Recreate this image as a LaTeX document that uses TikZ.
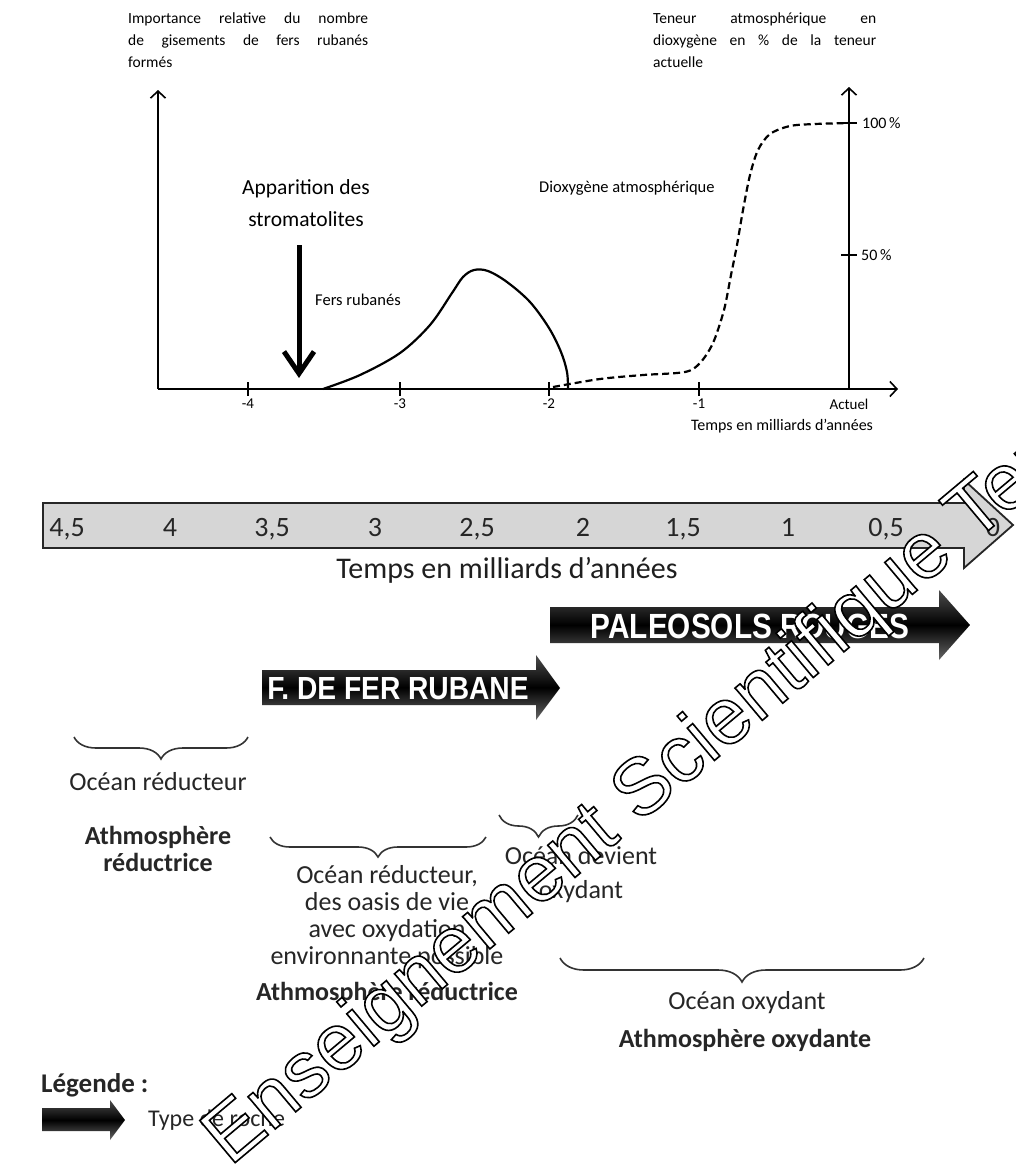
\documentclass[tikz,border=0pt]{standalone}
\usepackage{fontspec}
\setmainfont{Carlito}
\newfontfamily\wmfont{Liberation Sans}
\newfontfamily\boldcond{Liberation Sans}
\usetikzlibrary{arrows.meta,decorations.pathreplacing}
\tikzset{
 axis/.style={line width=1.6pt, -{Straight Barb[length=7pt,width=15pt]}},
 tickmark/.style={line width=1.6pt},
 ticklbl/.style={font=\fontsize{15}{18}\selectfont, inner sep=0pt},
 grlbl/.style={font=\fontsize{16.5}{20}\selectfont, inner sep=0pt},
 para/.style={font=\fontsize{15.5}{22}\selectfont, inner sep=0pt, anchor=north west, align=left},
 lowtxt/.style={font=\fontsize{26}{27}\selectfont, text=black!85, inner sep=0pt, align=center},
 lowbold/.style={font=\fontsize{26}{27}\selectfont\bfseries, text=black!85, inner sep=0pt, align=center},
 bracepath/.style={decorate, decoration={brace, mirror, amplitude=#1}, line width=1.6pt, draw=black!80},
 rockarrow/.style={top color=black!70, bottom color=black!60, middle color=black},
 rocktxt/.style={text=white, inner sep=0pt, font=\boldcond\bfseries\fontsize{#1}{#1}\selectfont},
 timebar/.style={fill=black!16, draw=black!85, line width=1.8pt},
 tlnum/.style={font=\fontsize{28}{30}\selectfont, text=black!85, inner sep=0pt, anchor=base},
 fers/.style={line width=2.2pt},
 oxy/.style={line width=2.2pt, dash pattern=on 7pt off 4pt},
 wm/.style={font=\wmfont\fontsize{80}{80}\selectfont, rotate=40, anchor=base west, inner sep=0pt},
}
\begin{document}
\begin{tikzpicture}[x=1pt,y=-1pt]
\useasboundingbox (0,0) rectangle (1016,1175);
\fill[white] (0,0) rectangle (1016,1175);

% ---------- upper graph ----------
\node[para] (ylab) at (128,13) {\makebox[240pt][s]{Importance relative du nombre}\\\makebox[240pt][s]{de gisements de fers rubanés}\\formés};
\node[para] (rlab) at (653,13) {\makebox[223pt][s]{Teneur atmosphérique en}\\\makebox[223pt][s]{dioxygène en \% de la teneur}\\actuelle};

\coordinate (O) at (158,389);
\coordinate (Ytop) at (158,90);
\coordinate (Xend) at (898,389);
\coordinate (R0) at (849,389);
\coordinate (Rtop) at (849,87);
\draw[axis] (O) -- (Ytop);
\draw[axis] (O) -- (Xend);
\draw[axis] (R0) -- (Rtop);

\draw[tickmark] (248,382) -- (248,396);
\draw[tickmark] (400,382) -- (400,396);
\draw[tickmark] (549,382) -- (549,396);
\draw[tickmark] (699,382) -- (699,396);
\node[ticklbl] (tA) at (248,404) {-4};
\node[ticklbl] (tB) at (400,404) {-3};
\node[ticklbl] (tC) at (549,404) {-2};
\node[ticklbl] (tD) at (699,404) {-1};
\node[ticklbl] (tE) at (849,404) {Actuel};
\node[grlbl, font=\fontsize{16}{20}\selectfont] (xlab) at (782,426) {Temps en milliards d’années};

\draw[tickmark] (841,123) -- (857,123);
\draw[tickmark] (841,255) -- (857,255);
\node[ticklbl, anchor=west, font=\fontsize{16}{18}\selectfont] (p100) at (862,123) {100\,\%};
\node[ticklbl, anchor=west, font=\fontsize{16}{18}\selectfont] (p50) at (861,255) {50\,\%};

\draw[fers] plot[smooth, tension=0.55] coordinates {(323,389) (360,375) (400,353) (430,325) (452,293) (463,277) (474,270) (488,271) (507,282) (530,302) (549,328) (561,352) (567,372) (568,389)};
\draw[oxy] plot[smooth, tension=0.5] coordinates {(553,387) (600,379) (643,375) (685,372) (700,363) (713,343) (724,310) (731,275) (737,245) (743,210) (750,175) (758,150) (770,134) (790,126) (815,124) (849,123)};

\node[align=center, inner sep=0pt, font=\fontsize{21.5}{32}\selectfont] (strom) at (306,203) {Apparition des\\stromatolites};
\coordinate (sa) at (299,245);
\coordinate (sb) at (299,378);
\draw[line width=5pt, -{Straight Barb[length=22pt,width=30pt]}] (sa) -- (sb);
\node[grlbl, anchor=west] (fr) at (315,300) {Fers rubanés};
\node[grlbl, anchor=west, font=\fontsize{16.5}{20}\selectfont] (dx) at (539,188) {Dioxygène atmosphérique};

% ---------- time bar ----------
\draw[timebar] (43,503) -- (964,503) -- (964,480) -- (1013,525) -- (964,568) -- (964,548) -- (43,548) -- cycle;
\node[tlnum] (n1) at (67,536) {4,5};
\node[tlnum] (n2) at (170,536) {4};
\node[tlnum] (n3) at (272,536) {3,5};
\node[tlnum] (n4) at (375,536) {3};
\node[tlnum] (n5) at (477,536) {2,5};
\node[tlnum] (n6) at (583,536) {2};
\node[tlnum] (n7) at (683,536) {1,5};
\node[tlnum] (n8) at (788,536) {1};
\node[tlnum] (n9) at (886,536) {0,5};
\node[tlnum] (n10) at (993,536) {0};
\node[font=\fontsize{30}{32}\selectfont, text=black!88, inner sep=0pt] (tlab) at (507,570) {Temps en milliards d’années};

% ---------- rock arrows ----------
\path[rockarrow] (550,607) -- (939,607) -- (939,590) -- (970,625) -- (939,660) -- (939,643) -- (550,643) -- cycle;
\node[rocktxt=35] (pal) at (750,626) {\scalebox{0.85}[1]{PALEOSOLS ROUGES}};
\path[rockarrow] (262,670) -- (536,670) -- (536,655) -- (560,688) -- (536,720) -- (536,705) -- (262,705) -- cycle;
\node[rocktxt=32] (fer) at (398,689) {\scalebox{0.88}[1]{F. DE FER RUBANE}};

% ---------- braces and texts ----------
\draw[bracepath=22pt] (74,737) -- (248,737);
\node[lowtxt] (o1) at (158,782) {Océan réducteur};
\node[lowbold] (a1) at (158,849) {Athmosphère\\réductrice};

\draw[bracepath=20pt] (270,837) -- (486,837);
\node[lowtxt] (o2) at (387,917) {Océan réducteur,\\des oasis de vie\\avec oxydation\\environnante possible};
\node[lowbold] (a2) at (387,993) {Athmosphère réductrice};

\draw[bracepath=22pt] (499,815) -- (578,815);
\node[lowtxt, font=\fontsize{26}{34}\selectfont] (o3) at (581,875) {Océan devient\\oxydant};

\draw[bracepath=24pt] (560,958) -- (924,958);
\node[lowtxt] (o4) at (747,1003) {Océan oxydant};
\node[lowbold] (a4) at (745,1040) {Athmosphère oxydante};

% ---------- legend ----------
\node[lowbold, anchor=west, font=\fontsize{27}{28}\selectfont\bfseries] (leg) at (41,1085) {Légende :};
\path[rockarrow] (42,1108) -- (110,1108) -- (110,1100) -- (125,1120) -- (110,1140) -- (110,1131) -- (42,1131) -- cycle;
\node[lowtxt, anchor=west, font=\fontsize{24}{26}\selectfont] (typ) at (148,1120) {Type de roche};

% ---------- watermark (outlined text) ----------
\begin{scope}
\clip (0,0) rectangle (1016,1175);
\node[wm, text=white] (wmk) at (230,1167) {\special{pdf:literal direct 2 Tr 1.6 w 0 0 0 RG}Enseignement Scientifique Terminale\special{pdf:literal direct 0 Tr}};
\end{scope}
\end{tikzpicture}
\end{document}
